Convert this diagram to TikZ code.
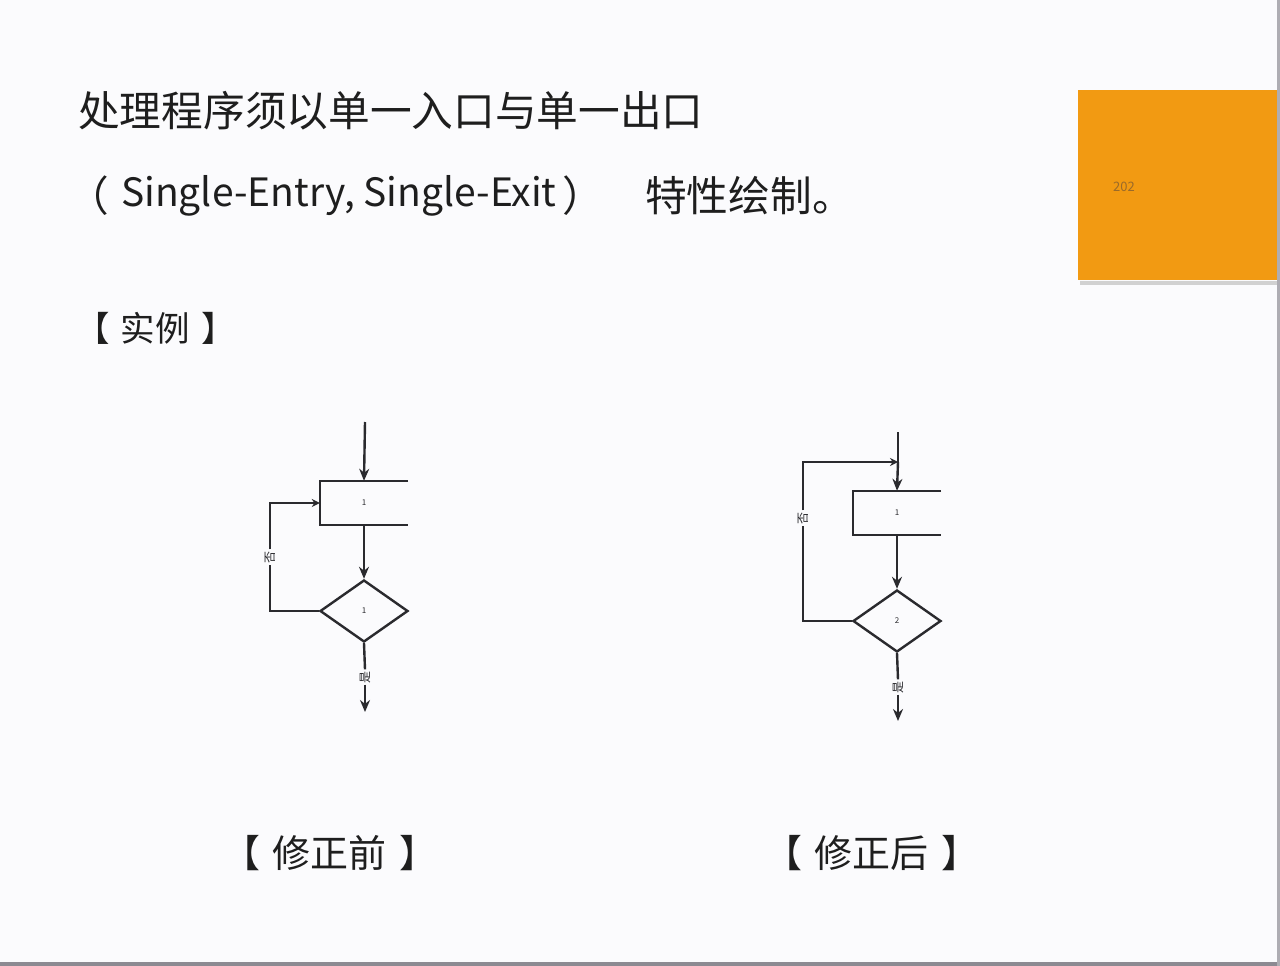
\documentclass[tikz,border=0pt]{standalone}
\usepackage{fontspec}
\setmainfont{Noto Sans CJK SC}
\usetikzlibrary{arrows.meta,shapes.geometric}
\definecolor{bgc}{HTML}{FBFBFD}
\definecolor{framec}{HTML}{8C8A92}
\definecolor{orng}{HTML}{F29A12}
\definecolor{orngd}{HTML}{9A6A2A}
\definecolor{ink}{HTML}{2A2A2E}
\definecolor{txt}{HTML}{1E1E1E}
\newcommand\openpunct[1]{\kern-0.3em#1\kern0.3em}
\newcommand\closepunct[2][0.35em]{\kern#1#2\kern-#1}
\begin{document}
\begin{tikzpicture}[x=1pt,y=-1pt,
  line/.style={draw=ink,line width=2.4pt},
  arr/.style={line,-{Stealth[length=12pt,width=10pt]}},
  sarr/.style={line,-{Stealth[length=8pt,width=8pt]}},
  procbox/.style={minimum width=88pt,minimum height=44pt,inner sep=0pt,font=\fontsize{8}{9}\selectfont,text=ink},
  decide/.style={diamond,draw=ink,line width=2.4pt,minimum width=88pt,minimum height=62pt,aspect=1.42,inner sep=0pt,font=\fontsize{8}{9}\selectfont,text=ink},
  tinylab/.style={rotate=90,fill=bgc,inner sep=1.5pt,font=\fontsize{12}{13}\selectfont,text=ink},
  bigtext/.style={anchor=west,inner sep=0pt,text=txt,font=\fontsize{41.7}{48}\selectfont},
  midtext/.style={anchor=west,inner sep=0pt,text=txt,font=\fontsize{34.5}{40}\selectfont}]
\useasboundingbox (0,0) rectangle (1280,966);
\fill[bgc] (0,0) rectangle (1280,966);
\fill[framec] (0,962) rectangle (1280,966);
\fill[framec!70] (1277,0) rectangle (1280,966);
% orange box
\fill[black!18] (1080,281) rectangle (1277,285);
\fill[orng] (1078,90) rectangle (1277,280);
\node[text=orngd,font=\fontsize{13}{13}\selectfont,inner sep=0pt] (num) at (1124,187) {202};
% texts
\node[bigtext] (t1) at (78,111) {处理程序须以单一入口与单一出口};
\node[bigtext] (t2a) at (80,196) {\openpunct{（}};
\node[bigtext,font=\fontsize{39}{44}\selectfont] (t2b) at (121,196) {Single-Entry, Single-Exit};
\node[bigtext] (t2c) at (562,196) {）};
\node[bigtext] (t2d) at (645,196) {特性绘制。};
\node[midtext] (t3) at (86,328) {\openpunct{【}实例\closepunct{】}};
\node[midtext,font=\fontsize{38}{44}\selectfont] (t4) at (234,853) {\openpunct{【}修正前\closepunct{】}};
\node[midtext,font=\fontsize{38}{44}\selectfont] (t5) at (776,853) {\openpunct{【}修正后\closepunct{】}};
% left flowchart
\coordinate (s1) at (365,422);
\node[procbox] (b1) at (364,503) {1};
\draw[line] (b1.north east) -- (b1.north west) -- (b1.south west) -- (b1.south east);
\node[decide] (d1) at (364,611) {1};
\draw[arr] (s1) -- (b1.north);
\draw[arr] (b1.south) -- (d1.north);
\coordinate (c1a) at (270,611);
\coordinate (c1b) at (270,503);
\node[tinylab] (l1) at (270,557) {否};
\draw[line] (d1.west) -- (c1a) -- (l1.west);
\draw[sarr] (l1.east) -- (c1b) -- (b1.west);
\node[tinylab] (x1) at (365,677) {是};
\coordinate (e1) at (365,712);
\draw[line] (d1.south) -- (x1.east);
\draw[arr] (x1.west) -- (e1);
% right flowchart
\coordinate (s2) at (898,432);
\coordinate (j2) at (898,462);
\node[procbox] (b2) at (897,513) {1};
\draw[line] (b2.north east) -- (b2.north west) -- (b2.south west) -- (b2.south east);
\node[decide] (d2) at (897,621) {2};
\draw[line] (s2) -- (j2);
\draw[arr] (j2) -- (b2.north);
\draw[arr] (b2.south) -- (d2.north);
\coordinate (c2a) at (803,621);
\coordinate (c2b) at (803,462);
\node[tinylab] (l2) at (803,518) {否};
\draw[line] (d2.west) -- (c2a) -- (l2.west);
\draw[sarr] (l2.east) -- (c2b) -- (j2);
\node[tinylab] (x2) at (898,687) {是};
\coordinate (e2) at (898,721);
\draw[line] (d2.south) -- (x2.east);
\draw[arr] (x2.west) -- (e2);
\end{tikzpicture}
\end{document}
